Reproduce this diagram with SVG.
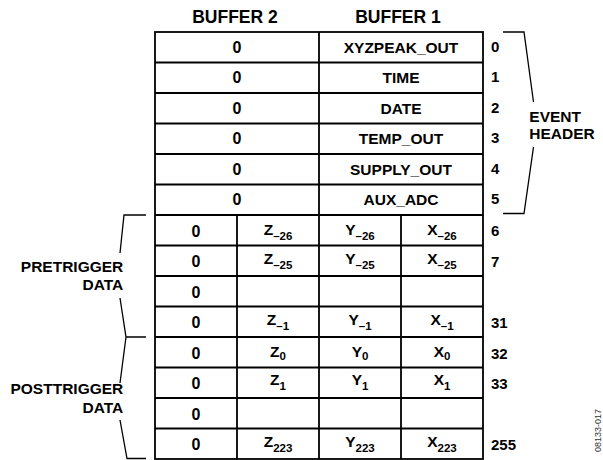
<svg xmlns="http://www.w3.org/2000/svg" width="603" height="460" viewBox="0 0 603 460">
<style>
text{font-family:"Liberation Sans",Arial,sans-serif;font-weight:bold;fill:#000}
.hd{font-size:17.5px;text-anchor:middle}
.lb{font-size:15.5px;text-anchor:middle}
.z{font-size:16px;text-anchor:middle}
.n{font-size:15px}
.side{font-size:15.5px}
.r{text-anchor:end}
.s{font-size:11.5px}
.grid{stroke:#000;stroke-width:1.8;fill:none}
.brace{stroke:#000;stroke-width:1.3;fill:none}
.id{font-family:"Liberation Sans",Arial,sans-serif;font-weight:normal;font-size:9px;fill:#333}
</style>
<rect width="603" height="460" fill="#fff"/>
<g id="headers">
<text class="hd" x="235" y="22.7">BUFFER 2</text>
<text class="hd" x="398" y="22.7">BUFFER 1</text>
</g>
<g id="grid" class="grid">
<rect x="155" y="32" width="328" height="427"/>
<path d="M155,62.5H483M155,93H483M155,123.5H483M155,154H483M155,184.5H483M155,215H483M155,245.5H483M155,276H483M155,306.5H483M155,337H483M155,367.5H483M155,398H483M155,428.5H483"/>
<path d="M319,32V459M237,215V459M401,215V459"/>
</g>
<g id="row-0"><text class="z" x="237" y="52.5">0</text><text class="lb" x="401" y="52.5">XYZPEAK_OUT</text><text class="n" x="491" y="51.7">0</text></g>
<g id="row-1"><text class="z" x="237" y="83">0</text><text class="lb" x="401" y="83">TIME</text><text class="n" x="491" y="82">1</text></g>
<g id="row-2"><text class="z" x="237" y="113.5">0</text><text class="lb" x="401" y="113.5">DATE</text><text class="n" x="491" y="112.5">2</text></g>
<g id="row-3"><text class="z" x="237" y="144">0</text><text class="lb" x="401" y="144">TEMP_OUT</text><text class="n" x="491" y="143">3</text></g>
<g id="row-4"><text class="z" x="237" y="174.5">0</text><text class="lb" x="401" y="174.5">SUPPLY_OUT</text><text class="n" x="491" y="173.5">4</text></g>
<g id="row-5"><text class="z" x="237" y="205">0</text><text class="lb" x="401" y="205">AUX_ADC</text><text class="n" x="491" y="204">5</text></g>
<g id="row-6"><text class="z" x="196" y="236.5">0</text>
<text class="lb" x="278" y="235">Z<tspan class="s" dy="4.5">–26</tspan></text>
<text class="lb" x="360" y="235">Y<tspan class="s" dy="4.5">–26</tspan></text>
<text class="lb" x="442" y="235">X<tspan class="s" dy="4.5">–26</tspan></text>
<text class="n" x="491" y="236">6</text></g>
<g id="row-7"><text class="z" x="196" y="267">0</text>
<text class="lb" x="278" y="263.5">Z<tspan class="s" dy="5">–25</tspan></text>
<text class="lb" x="360" y="263.5">Y<tspan class="s" dy="5">–25</tspan></text>
<text class="lb" x="442" y="263.5">X<tspan class="s" dy="5">–25</tspan></text>
<text class="n" x="491" y="266.5">7</text></g>
<g id="row-8"><text class="z" x="196" y="297.5">0</text></g>
<g id="row-9"><text class="z" x="196" y="328">0</text>
<text class="lb" x="278" y="324.5">Z<tspan class="s" dy="5">–1</tspan></text>
<text class="lb" x="360" y="324.5">Y<tspan class="s" dy="5">–1</tspan></text>
<text class="lb" x="442" y="324.5">X<tspan class="s" dy="5">–1</tspan></text>
<text class="n" x="491" y="328.3">31</text></g>
<g id="row-10"><text class="z" x="196" y="358.5">0</text>
<text class="lb" x="278" y="356.5">Z<tspan class="s" dy="3.5">0</tspan></text>
<text class="lb" x="360" y="356.5">Y<tspan class="s" dy="3.5">0</tspan></text>
<text class="lb" x="442" y="356.5">X<tspan class="s" dy="3.5">0</tspan></text>
<text class="n" x="491" y="358.8">32</text></g>
<g id="row-11"><text class="z" x="196" y="389">0</text>
<text class="lb" x="278" y="385">Z<tspan class="s" dy="5">1</tspan></text>
<text class="lb" x="360" y="385">Y<tspan class="s" dy="5">1</tspan></text>
<text class="lb" x="442" y="385">X<tspan class="s" dy="5">1</tspan></text>
<text class="n" x="491" y="389.3">33</text></g>
<g id="row-12"><text class="z" x="196" y="419.5">0</text></g>
<g id="row-13"><text class="z" x="196" y="450">0</text>
<text class="lb" x="278" y="446.5">Z<tspan class="s" dy="5">223</tspan></text>
<text class="lb" x="360" y="446.5">Y<tspan class="s" dy="5">223</tspan></text>
<text class="lb" x="442" y="446.5">X<tspan class="s" dy="5">223</tspan></text>
<text class="n" x="491" y="450">255</text></g>
<g id="connectors" class="brace">
<path d="M503,32H524L533.5,102M533.5,147L524,213.5H503"/>
<path d="M146,215H124L120,253M120,298L126,337H146M126,337L120,383M120,420L127,458.5H146"/>
</g>
<g id="event-header"><text class="side" x="529.3" y="121.7">EVENT</text><text class="side" x="529.3" y="138.5">HEADER</text></g>
<g id="pretrigger"><text class="side r" x="123.3" y="271.7">PRETRIGGER</text><text class="side r" x="123.3" y="290">DATA</text></g>
<g id="posttrigger"><text class="side r" x="123.3" y="394">POSTTRIGGER</text><text class="side r" x="123.3" y="412.7">DATA</text></g>
<text class="id" transform="translate(600.5,452) rotate(-90)">08133-017</text>
</svg>
